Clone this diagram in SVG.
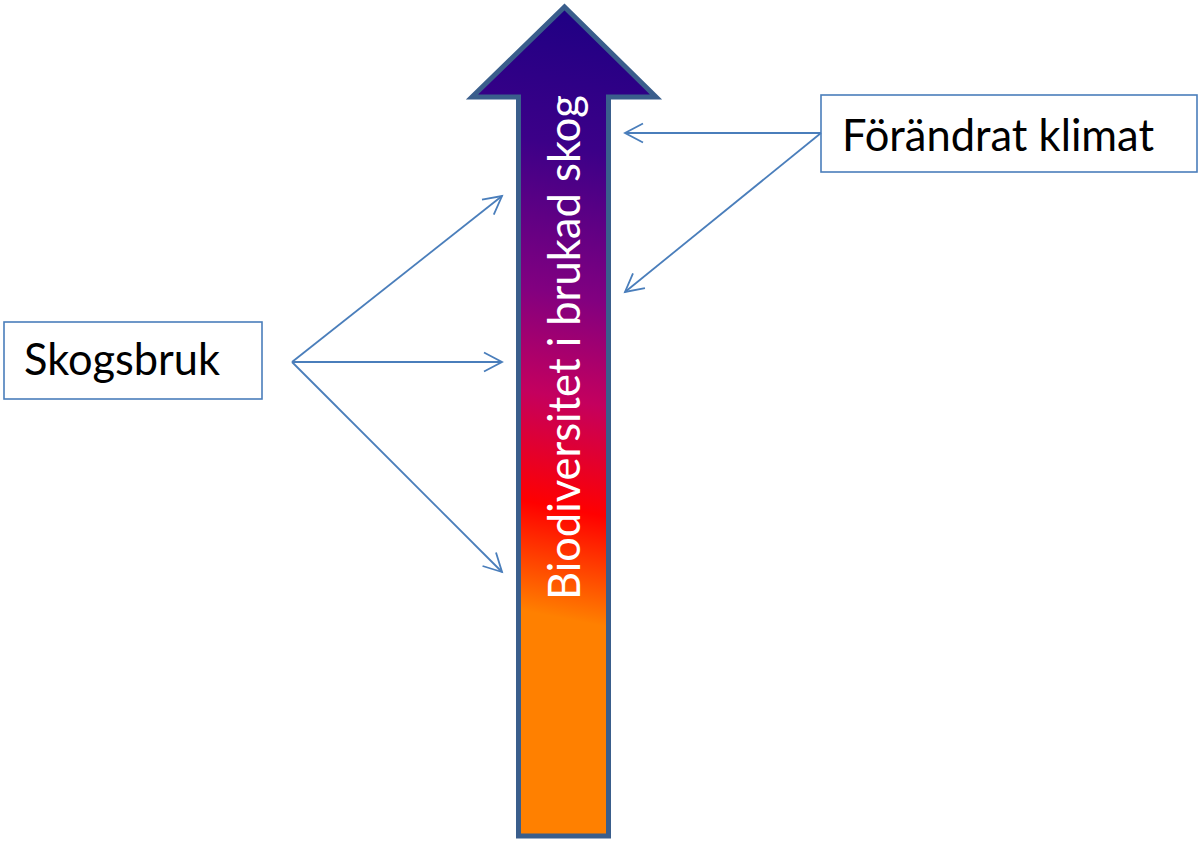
<svg xmlns="http://www.w3.org/2000/svg" width="1198" height="843" viewBox="0 0 1198 843">
  <style>
    .box { fill: #ffffff; stroke: #4A7EBB; stroke-width: 1.6; }
    .lbl { font-family: Lato, "Open Sans", "Liberation Sans", sans-serif; font-size: 45px; fill: #000000; }
    .conn { stroke: #4A7EBB; stroke-width: 1.8; fill: none; marker-end: url(#open); }
    .vlbl { font-family: Lato, "Open Sans", "Liberation Sans", sans-serif; font-size: 45px; fill: #ffffff; }
  </style>
  <defs>
    <linearGradient id="grad" gradientUnits="userSpaceOnUse" x1="650" y1="0" x2="530" y2="625">
      <stop offset="0" stop-color="#1A0083"/>
      <stop offset="0.25" stop-color="#3C0088"/>
      <stop offset="0.48" stop-color="#820080"/>
      <stop offset="0.64" stop-color="#C4005E"/>
      <stop offset="0.81" stop-color="#FF0000"/>
      <stop offset="0.98" stop-color="#FF8000"/>
      <stop offset="1" stop-color="#FF8000"/>
    </linearGradient>
    <marker id="open" markerUnits="userSpaceOnUse" markerWidth="30" markerHeight="30" viewBox="-25 -15 30 30" refX="0" refY="0" orient="auto">
      <path d="M -18,-9.5 L 0,0 L -18,9.5" fill="none" stroke="#4A7EBB" stroke-width="1.8"/>
    </marker>
  </defs>

  <g id="main-arrow">
    <path d="M 518.5,836 L 518.5,97 L 472,97 L 564.5,7 L 656,97 L 608.5,97 L 608.5,836 Z" fill="url(#grad)" stroke="#3A5E8C" stroke-width="5" stroke-linejoin="miter"/>
    <text class="vlbl" transform="translate(580,600) rotate(-90)" textLength="505" lengthAdjust="spacingAndGlyphs">Biodiversitet i brukad skog</text>
  </g>

  <g id="node-skogsbruk">
    <rect class="box" x="4" y="322" width="258" height="77"/>
    <text class="lbl" x="24" y="375" textLength="196" lengthAdjust="spacingAndGlyphs">Skogsbruk</text>
  </g>

  <g id="node-klimat">
    <rect class="box" x="821" y="95" width="376" height="77"/>
    <text class="lbl" x="842" y="151" textLength="312" lengthAdjust="spacingAndGlyphs">Förändrat klimat</text>
  </g>

  <g id="connectors">
    <line class="conn" x1="292" y1="362" x2="502" y2="196"/>
    <line class="conn" x1="292" y1="362" x2="502" y2="362"/>
    <line class="conn" x1="292" y1="362" x2="502" y2="572"/>
    <line class="conn" x1="821" y1="133" x2="625" y2="133"/>
    <line class="conn" x1="821" y1="133" x2="625" y2="292"/>
  </g>
</svg>
